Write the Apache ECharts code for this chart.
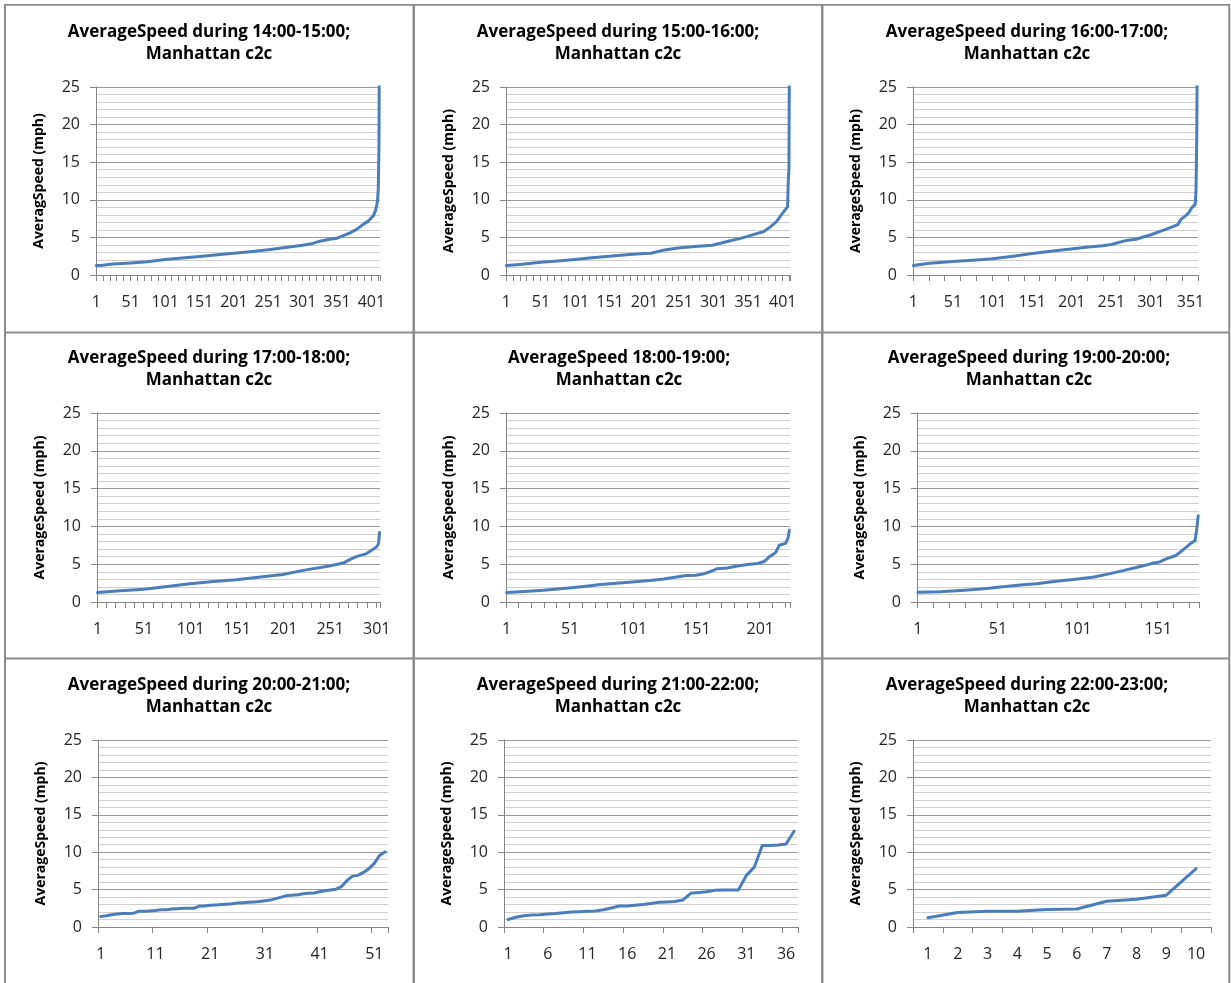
<!DOCTYPE html>
<html>
<head>
<meta charset="utf-8">
<script src="https://cdn.jsdelivr.net/npm/echarts@6/dist/echarts.min.js"></script>
<style>
  html, body { margin: 0; padding: 0; background: #ffffff; }
  #chart { width: 1231px; height: 983px; }
</style>
</head>
<body>
<div id="chart"></div>
<script>
// ---------- data ----------
const titles = [
  'AverageSpeed during 14:00-15:00;\nManhattan c2c',
  'AverageSpeed during 15:00-16:00;\nManhattan c2c',
  'AverageSpeed during 16:00-17:00;\nManhattan c2c',
  'AverageSpeed during 17:00-18:00;\nManhattan c2c',
  'AverageSpeed 18:00-19:00;\nManhattan c2c',
  'AverageSpeed during 19:00-20:00;\nManhattan c2c',
  'AverageSpeed during 20:00-21:00;\nManhattan c2c',
  'AverageSpeed during 21:00-22:00;\nManhattan c2c',
  'AverageSpeed during 22:00-23:00;\nManhattan c2c'
];
const yAxisNames = [
  'AveragSpeed (mph)', 'AverageSpeed (mph)', 'AverageSpeed (mph)',
  'AverageSpeed (mph)', 'AverageSpeed (mph)', 'AverageSpeed (mph)',
  'AverageSpeed (mph)', 'AverageSpeed (mph)', 'AverageSpeed (mph)'
];
// number of points (categories 1..N) in each panel
const pointCounts = [413, 411, 360, 304, 224, 176, 53, 37, 10];
// x tick label step and tick mark step (in categories)
const labelSteps = [50, 50, 50, 50, 50, 50, 10, 5, 1];
const tickSteps  = [10, 10, 20, 10, 10, 10, 10, 5, 1];
// y axis
const yMin = 0, yMax = 25, yStep = 5;

// readings [point number, speed] for the long panels
const speed1415 = [[1,1.25],[10,1.3],[25,1.45],[51,1.6],[75,1.75],[101,2.05],[126,2.25],[151,2.45],[177,2.7],[201,2.9],[225,3.1],[251,3.35],[276,3.65],[301,3.95],[316,4.2],[326,4.5],[340,4.75],[351,4.9],[362,5.3],[370,5.6],[380,6.1],[390,6.8],[397,7.2],[404,7.9],[407,8.6],[409,9.4],[410,10],[411,11.5],[412,17],[413,40]];
const speed1516 = [[1,1.25],[20,1.4],[51,1.7],[75,1.85],[100,2.05],[125,2.3],[150,2.5],[175,2.7],[200,2.85],[210,2.9],[228,3.3],[249,3.6],[274,3.8],[299,3.95],[312,4.25],[325,4.55],[337,4.8],[349,5.1],[363,5.5],[373,5.75],[383,6.4],[392,7.1],[399,8.0],[404,8.6],[408,9.1],[409,12.5],[410,14],[411,40]];
const speed1617 = [[1,1.25],[21,1.55],[51,1.8],[80,2.0],[101,2.15],[127,2.5],[151,2.85],[177,3.2],[200,3.45],[219,3.7],[240,3.9],[251,4.05],[270,4.6],[282,4.75],[301,5.35],[318,6.0],[328,6.4],[335,6.7],[339,7.4],[345,7.9],[349,8.3],[353,9.0],[357,9.4],[358,11.3],[359,19],[360,40]];
const speed1718 = [[1,1.25],[26,1.5],[51,1.7],[76,2.05],[100,2.4],[126,2.7],[150,2.95],[176,3.3],[200,3.65],[225,4.25],[250,4.75],[265,5.15],[272,5.6],[279,6.0],[290,6.4],[295,6.8],[300,7.2],[302,7.5],[303,7.8],[304,9.2]];
const speed1819 = [[1,1.25],[12,1.35],[30,1.55],[50,1.85],[62,2.05],[75,2.3],[100,2.65],[114,2.85],[125,3.05],[135,3.3],[143,3.5],[150,3.55],[157,3.75],[163,4.1],[167,4.4],[175,4.5],[183,4.75],[191,4.95],[199,5.1],[204,5.35],[208,5.95],[213,6.5],[216,7.5],[221,7.75],[223,8.5],[224,9.5]];
const speed1920 = [[1,1.3],[15,1.35],[30,1.55],[44,1.8],[51,1.95],[65,2.25],[75,2.4],[86,2.7],[101,3.05],[111,3.3],[121,3.75],[127,4.05],[136,4.5],[143,4.85],[148,5.15],[152,5.3],[156,5.7],[162,6.15],[166,6.8],[171,7.7],[174,8.1],[175,9.5],[176,11.4]];
// every point for the short panels
const speed2021 = [1.4,1.5,1.65,1.75,1.8,1.8,1.85,2.1,2.1,2.15,2.2,2.3,2.3,2.4,2.45,2.5,2.5,2.5,2.8,2.8,2.9,2.95,3.0,3.05,3.1,3.2,3.25,3.3,3.35,3.4,3.5,3.6,3.8,4.0,4.2,4.25,4.3,4.45,4.5,4.55,4.7,4.85,4.95,5.05,5.4,6.2,6.8,6.9,7.3,7.8,8.5,9.6,10.05];
const speed2122 = [1.0,1.3,1.5,1.6,1.65,1.75,1.8,1.9,2.0,2.05,2.1,2.15,2.3,2.55,2.8,2.8,2.9,3.0,3.15,3.3,3.35,3.4,3.6,4.5,4.6,4.7,4.9,4.95,4.95,4.95,6.9,8.0,10.9,10.9,10.95,11.1,12.8];
const speed2223 = [1.25,1.95,2.1,2.1,2.35,2.4,3.45,3.7,4.25,7.8];

const seriesData = [speed1415, speed1516, speed1617, speed1718, speed1819, speed1920, speed2021, speed2122, speed2223];

// ---------- layout ----------
const gridBoxes = [
  {left: 96,  top: 87,  width: 284, height: 188},
  {left: 506, top: 87,  width: 284, height: 188},
  {left: 913, top: 87,  width: 285, height: 188},
  {left: 97,  top: 413, width: 283, height: 189},
  {left: 506, top: 413, width: 284, height: 189},
  {left: 917, top: 413, width: 282, height: 189},
  {left: 98,  top: 740, width: 290, height: 187},
  {left: 504, top: 740, width: 294, height: 187},
  {left: 913, top: 740, width: 298, height: 187}
];
const titleCenters = [209, 618, 1027, 209, 619, 1029, 209, 618, 1027];
const titleTops = [21, 21, 21, 347, 347, 347, 674, 674, 674];

const FONT = '"Open Sans", "Liberation Sans", sans-serif';
const LINE = '#4a7ebb';
const AXIS = '#868686';

const option = {
  backgroundColor: '#ffffff',
  animation: false,
  title: [], grid: [], xAxis: [], yAxis: [], series: [],
  graphic: [
    {type: 'rect', shape: {x: 4, y: 4, width: 2, height: 979}, style: {fill: '#8c8c8c'}},
    {type: 'rect', shape: {x: 4, y: 4, width: 1226, height: 1.8}, style: {fill: '#8c8c8c'}},
    {type: 'rect', shape: {x: 412.5, y: 4, width: 2.5, height: 979}, style: {fill: '#8c8c8c'}},
    {type: 'rect', shape: {x: 821, y: 4, width: 2.5, height: 979}, style: {fill: '#8c8c8c'}},
    {type: 'rect', shape: {x: 1228.3, y: 4, width: 2, height: 979}, style: {fill: '#8c8c8c'}},
    {type: 'rect', shape: {x: 4, y: 331.5, width: 1226, height: 2}, style: {fill: '#8c8c8c'}},
    {type: 'rect', shape: {x: 4, y: 657.5, width: 1226, height: 2}, style: {fill: '#8c8c8c'}}
  ]
};

for (let k = 0; k < 9; k++) {
  const n = pointCounts[k];
  const categories = Array.from({length: n}, (_, i) => String(i + 1));
  const raw = seriesData[k];
  const data = Array.isArray(raw[0]) ? raw.map(p => [p[0] - 1, p[1]]) : raw.map((v, i) => [i, v]);

  option.title.push({
    text: titles[k],
    left: titleCenters[k], top: titleTops[k], textAlign: 'center', padding: 0,
    textStyle: {fontFamily: FONT, fontSize: 17, fontWeight: 'bold', color: '#000', lineHeight: 22}
  });
  option.grid.push(Object.assign({containLabel: false}, gridBoxes[k]));
  option.xAxis.push({
    type: 'category', gridIndex: k, data: categories, boundaryGap: true,
    axisLine: {show: true, lineStyle: {color: AXIS, width: 1}},
    axisTick: {show: true, interval: tickSteps[k] - 1, length: 6, lineStyle: {color: AXIS}},
    axisLabel: {interval: labelSteps[k] - 1, margin: 19, fontFamily: FONT, fontSize: 16, color: '#262626'},
    splitLine: {show: false}
  });
  option.yAxis.push({
    type: 'value', gridIndex: k, min: yMin, max: yMax, interval: yStep,
    name: yAxisNames[k], nameLocation: 'middle', nameGap: 50,
    nameTextStyle: {fontFamily: FONT, fontSize: 14, fontWeight: 'bold', color: '#000'},
    axisLine: {show: true, lineStyle: {color: AXIS, width: 1}},
    axisTick: {show: true, length: 6, lineStyle: {color: AXIS}},
    axisLabel: {margin: 16, fontFamily: FONT, fontSize: 16, color: '#262626'},
    splitLine: {show: true, lineStyle: {color: '#9a9a9a', width: 1}},
    minorTick: {show: false, splitNumber: 5},
    minorSplitLine: {show: true, lineStyle: {color: '#cfcfcf', width: 1}}
  });
  option.series.push({
    type: 'line', xAxisIndex: k, yAxisIndex: k, data: data,
    showSymbol: false, symbol: 'none', clip: true,
    lineStyle: {color: LINE, width: 3, cap: 'round', join: 'round'}
  });
}

const chart = echarts.init(document.getElementById('chart'), null, {renderer: 'canvas'});
chart.setOption(option);
</script>
</body>
</html>
